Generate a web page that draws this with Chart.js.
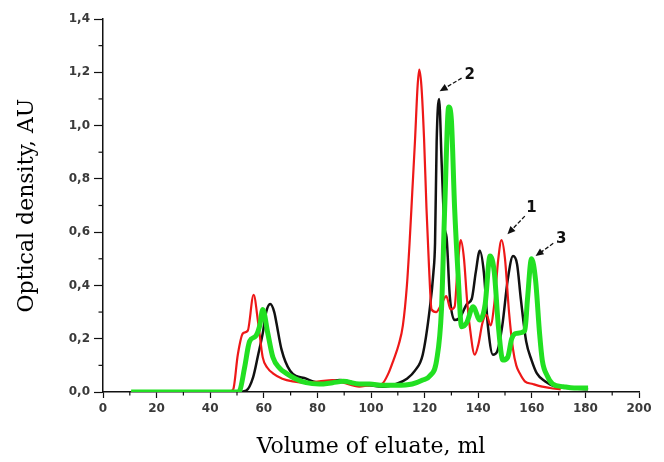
<!DOCTYPE html>
<html>
<head>
<meta charset="utf-8">
<script src="https://cdn.jsdelivr.net/npm/chart.js@4.4.1/dist/chart.umd.min.js"></script>
<style>
html,body{margin:0;padding:0;background:#fff;}
#wrap{width:664px;height:462px;position:relative;}
</style>
</head>
<body>
<div id="wrap"><canvas id="c" width="664" height="462"></canvas></div>
<script>
// ---- data ----
const xTickLabels = ["0","20","40","60","80","100","120","140","160","180","200"];
const yTickLabels = ["0,0","0,2","0,4","0,6","0,8","1,0","1,2","1,4"];

const curve1X = [10.5,20.4,30.3,40.2,47.1,48.6,50.3,52.2,54.0,56.2,57.9,59.6,61.4,63.4,66.9,70.8,75.8,80.7,85.7,89.6,95.6,99.5,104.0,106.5,108.4,110.4,111.9,113.4,114.4,115.4,116.4,117.4,118.0,118.8,119.8,120.7,121.6,122.6,124.3,126.3,128.1,129.7,131.2,132.2,133.5,134.7,135.8,136.8,138.7,140.1,141.6,143.1,144.6,146.0,147.5,148.7,150.0,151.5,153.0,154.2,155.5,157.4,160.4,163.9,166.8,170.8];
const curve1Y = [0,0,0,0,0,0.01,0.14,0.22,0.23,0.365,0.26,0.13,0.09,0.07,0.05,0.04,0.035,0.04,0.045,0.035,0.02,0.025,0.03,0.07,0.12,0.18,0.25,0.4,0.56,0.75,0.94,1.15,1.21,1.15,0.95,0.69,0.48,0.31,0.3,0.33,0.36,0.31,0.32,0.45,0.57,0.5,0.35,0.25,0.14,0.18,0.26,0.29,0.25,0.33,0.5,0.57,0.5,0.3,0.16,0.1,0.07,0.04,0.03,0.02,0.015,0.01];

const curve2X = [10.5,20.4,30.3,40.2,50.0,53.4,56.0,57.9,59.6,60.9,62.4,63.9,64.7,66.6,69.8,75.8,80.7,84.7,88.4,91.6,95.6,99.5,104.5,109.4,113.4,116.4,119.3,121.9,123.3,123.9,124.5,125.4,126.4,127.4,128.2,129.4,131.2,133.2,135.8,137.6,139.1,140.6,142.1,143.6,145.5,147.0,149.0,151.0,153.0,154.5,155.9,157.9,159.9,161.9,164.9,168.8,173.8,181.0];
const curve2Y = [0,0,0,0,0,0.005,0.055,0.14,0.22,0.3,0.33,0.3,0.26,0.16,0.08,0.05,0.035,0.04,0.045,0.04,0.03,0.025,0.02,0.03,0.05,0.08,0.14,0.31,0.45,0.56,0.94,1.10,0.85,0.62,0.58,0.36,0.27,0.28,0.33,0.35,0.45,0.53,0.45,0.25,0.14,0.15,0.25,0.42,0.51,0.48,0.35,0.19,0.12,0.07,0.04,0.02,0.015,0.01];

const curve3X = [10.5,20.4,30.3,40.2,50.0,51.0,52.8,54.7,57.0,58.5,59.6,61.5,63.4,65.9,68.4,71.8,75.8,80.7,85.7,89.6,95.6,99.5,104.5,109.4,115.4,119.3,121.9,124.5,126.3,127.5,129.0,130.0,131.2,132.5,133.8,135.7,138.1,140.6,142.6,144.4,146.0,147.5,149.2,151.0,152.5,154.2,157.4,158.4,159.9,161.4,162.9,163.9,165.8,167.8,171.8,175.8,181.0];
const curve3Y = [0,0,0,0,0,0.005,0.09,0.19,0.21,0.25,0.31,0.22,0.13,0.09,0.07,0.05,0.035,0.03,0.035,0.04,0.03,0.03,0.025,0.025,0.03,0.045,0.06,0.12,0.31,0.69,1.07,1.02,0.69,0.44,0.245,0.26,0.32,0.27,0.33,0.51,0.45,0.25,0.12,0.13,0.2,0.22,0.23,0.35,0.5,0.42,0.22,0.12,0.06,0.03,0.02,0.015,0.015];

// annotation labels: text, label position, arrow tail, arrow head (data units)
const annText  = ["2","1","3"];
const annLabel = [[136.8,1.19],[159.9,0.69],[171.0,0.575]];
const annTail  = [[133.8,1.178],[157.4,0.66],[168.0,0.558]];
const annHead  = [[125.6,1.129],[150.9,0.592],[161.4,0.51]];

function pts(xs, ys){ return xs.map((x,i)=>({x:x,y:ys[i]})); }

// minor ticks halfway between the library's major ticks
const minorTickPlugin = {
  id:'minorTicks',
  afterDraw(chart){
    const ctx = chart.ctx, xs = chart.scales.x, ys = chart.scales.y;
    ctx.save();
    ctx.strokeStyle = '#111'; ctx.lineWidth = 1.2;
    const xt = xs.ticks.map(t=>t.value);
    for(let i=0;i<xt.length-1;i++){
      const p = xs.getPixelForValue((xt[i]+xt[i+1])/2);
      ctx.beginPath(); ctx.moveTo(p, xs.top); ctx.lineTo(p, xs.top+3.5); ctx.stroke();
    }
    const yt = ys.ticks.map(t=>t.value);
    for(let i=0;i<yt.length-1;i++){
      const p = ys.getPixelForValue((yt[i]+yt[i+1])/2);
      ctx.beginPath(); ctx.moveTo(ys.right, p); ctx.lineTo(ys.right-4.5, p); ctx.stroke();
    }
    ctx.restore();
  }
};

const annotationPlugin = {
  id:'arrows',
  afterDatasetsDraw(chart){
    const ctx = chart.ctx, xs = chart.scales.x, ys = chart.scales.y;
    ctx.save();
    for(let i=0;i<annText.length;i++){
      const tx = xs.getPixelForValue(annTail[i][0]), ty = ys.getPixelForValue(annTail[i][1]);
      const hx = xs.getPixelForValue(annHead[i][0]), hy = ys.getPixelForValue(annHead[i][1]);
      const ang = Math.atan2(hy-ty, hx-tx);
      ctx.strokeStyle = '#111'; ctx.fillStyle='#111'; ctx.lineWidth = 1.3;
      ctx.setLineDash([4,2]);
      ctx.beginPath(); ctx.moveTo(tx,ty);
      ctx.lineTo(hx - 6*Math.cos(ang), hy - 6*Math.sin(ang)); ctx.stroke();
      ctx.setLineDash([]);
      ctx.beginPath();
      ctx.moveTo(hx,hy);
      ctx.lineTo(hx - 8*Math.cos(ang) + 3.5*Math.sin(ang), hy - 8*Math.sin(ang) - 3.5*Math.cos(ang));
      ctx.lineTo(hx - 8*Math.cos(ang) - 3.5*Math.sin(ang), hy - 8*Math.sin(ang) + 3.5*Math.cos(ang));
      ctx.closePath(); ctx.fill();
      ctx.font = 'bold 15px "DejaVu Sans", sans-serif';
      ctx.textAlign = 'center'; ctx.textBaseline = 'middle';
      ctx.fillText(annText[i], xs.getPixelForValue(annLabel[i][0]), ys.getPixelForValue(annLabel[i][1]));
    }
    ctx.restore();
  }
};

const tickFont = {family:'"DejaVu Sans", sans-serif', size:12, weight:'bold'};
const titleFont = {family:'"DejaVu Serif", serif', size:22};

new Chart(document.getElementById('c'), {
  type:'scatter',
  data:{
    datasets:[
      {label:'2', data:pts(curve2X,curve2Y), borderColor:'#111111', borderWidth:2.5, showLine:true, pointRadius:0, cubicInterpolationMode:'monotone', order:3},
      {label:'1', data:pts(curve1X,curve1Y), borderColor:'#ee1818', borderWidth:2.2, showLine:true, pointRadius:0, cubicInterpolationMode:'monotone', order:2},
      {label:'3', data:pts(curve3X,curve3Y), borderColor:'#22e022', borderWidth:5, showLine:true, pointRadius:0, cubicInterpolationMode:'monotone', order:1}
    ]
  },
  options:{
    responsive:false, animation:false,
    layout:{padding:{left:0,top:19,right:25,bottom:0}},
    plugins:{legend:{display:false}, tooltip:{enabled:false}},
    scales:{
      x:{
        type:'linear', min:0, max:200,
        afterFit(s){ s.height = 70; },
        border:{display:true, color:'#111', width:1.5},
        grid:{drawOnChartArea:false, drawTicks:true, tickLength:6, color:'#111', tickWidth:1.2},
        ticks:{stepSize:20, autoSkip:false, maxRotation:0, color:'#3a3a3a', font:tickFont, padding:4,
          callback(v){ return xTickLabels[Math.round(v/20)]; }},
        title:{display:true, text:'Volume of eluate, ml', color:'#000', font:titleFont, padding:{top:12,bottom:2}}
      },
      y:{
        type:'linear', min:0, max:1.4,
        afterFit(s){ s.width = 103; },
        border:{display:true, color:'#111', width:1.5},
        grid:{drawOnChartArea:false, drawTicks:true, tickLength:9, color:'#111', tickWidth:1.2},
        ticks:{stepSize:0.2, autoSkip:false, color:'#3a3a3a', font:tickFont, padding:4,
          callback(v){ return yTickLabels[Math.round(v*5)]; }},
        title:{display:true, text:'Optical density, AU', color:'#000', font:titleFont, padding:{top:14,bottom:0}}
      }
    }
  },
  plugins:[annotationPlugin, minorTickPlugin]
});
</script>
</body>
</html>
